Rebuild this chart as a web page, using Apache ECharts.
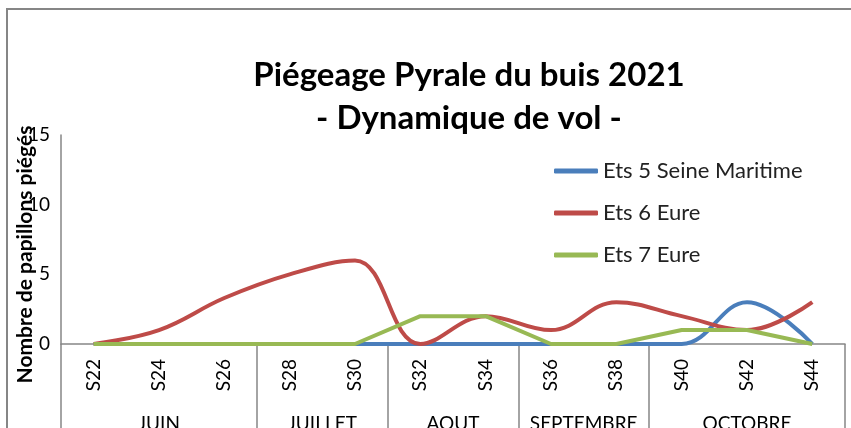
<!DOCTYPE html>
<html>
<head>
<meta charset="utf-8">
<script src="https://cdn.jsdelivr.net/npm/echarts@6/dist/echarts.min.js"></script>
<style>
  html, body { margin: 0; padding: 0; background: #fff; }
  #chart { width: 851px; height: 428px; }
</style>
</head>
<body>
<div id="chart"></div>
<script>
// weekly catches, even weeks only
const weeks = ['S22', 'S24', 'S26', 'S28', 'S30', 'S32', 'S34', 'S36', 'S38', 'S40', 'S42', 'S44']
const ets5 = [0, 0, 0, 0, 0, 0, 0, 0, 0, 0, 3, 0]
const ets6 = [0, 1, 3.3, 5, 6, 0, 2, 1, 3, 2, 1, 3]
const ets7 = [0, 0, 0, 0, 0, 2, 2, 0, 0, 1, 1, 0]

// month groups on the second axis level (in category units)
const months = ['JUIN', 'JUILLET', 'AOUT', 'SEPTEMBRE', 'OCTOBRE']
const monthBounds = [0, 3, 5, 7, 9, 12]
const monthCenters = [1.5, 4, 6, 8, 10.5]

const yTicks = [0, 5, 10, 15]

const FONT = 'Lato, "Open Sans", sans-serif'
const GREY = '#868686'

const chart = echarts.init(document.getElementById('chart'))

const option = {
  animation: false,
  color: ['#4a7ebb', '#be4b48', '#98b954'],
  title: {
    text: 'Piégeage Pyrale du buis 2021\n- Dynamique de vol -',
    left: 464,
    top: 49,
    textAlign: 'center',
    textStyle: {
      fontFamily: FONT,
      fontSize: 33,
      fontWeight: 'bold',
      color: '#000',
      lineHeight: 43,
    },
  },
  legend: {
    orient: 'vertical',
    left: 549,
    top: 155,
    itemWidth: 44,
    itemHeight: 5,
    itemGap: 20,
    icon: 'roundRect',
    textStyle: {
      fontFamily: FONT,
      fontSize: 22,
      color: '#222',
      lineHeight: 22,
    },
  },
  graphic: [
    {
      type: 'rect',
      shape: { x: 7, y: 9, width: 900, height: 500 },
      style: { fill: 'none', stroke: GREY, lineWidth: 2 },
      silent: true,
    },
  ],
  grid: {
    left: 61,
    right: 6,
    top: 135,
    bottom: 84,
    containLabel: false,
    outerBoundsMode: 'none',
  },
  xAxis: [
    {
      type: 'category',
      data: weeks,
      boundaryGap: true,
      axisLine: { lineStyle: { color: GREY, width: 1.5 } },
      axisTick: { show: false },
      axisLabel: {
        rotate: 90,
        interval: 0,
        margin: 15,
        fontFamily: FONT,
        fontSize: 19,
        color: '#000',
      },
    },
    {
      type: 'value',
      position: 'bottom',
      min: 0,
      max: 12,
      axisLine: { show: false },
      splitLine: { show: false },
      axisTick: {
        show: true,
        customValues: monthBounds,
        length: 90,
        lineStyle: { color: GREY, width: 1.5 },
      },
      axisLabel: {
        customValues: monthCenters,
        margin: 70,
        fontFamily: FONT,
        fontSize: 19,
        color: '#000',
        formatter: (v) => months[monthCenters.indexOf(v)] || '',
      },
    },
  ],
  yAxis: {
    type: 'value',
    min: 0,
    max: 15,
    interval: 5,
    name: 'Nombre de papillons piégés',
    nameLocation: 'middle',
    nameRotate: 90,
    nameGap: 25,
    nameMoveOverlap: false,
    nameTextStyle: {
      fontFamily: FONT,
      fontSize: 21,
      fontWeight: 'bold',
      color: '#000',
      padding: [0, 30, 0, 0],
    },
    axisLine: { show: true, lineStyle: { color: GREY, width: 1.5 } },
    axisTick: { show: false },
    splitLine: { show: false },
    axisLabel: {
      margin: 11,
      fontFamily: FONT,
      fontSize: 19,
      color: '#000',
      customValues: yTicks,
    },
  },
  series: [
    {
      name: 'Ets 5 Seine Maritime',
      type: 'line',
      data: ets5,
      smooth: 0.4,
      showSymbol: false,
      lineStyle: { width: 4 },
      z: 3,
    },
    {
      name: 'Ets 6 Eure',
      type: 'line',
      data: ets6,
      smooth: 0.4,
      showSymbol: false,
      lineStyle: { width: 4 },
      z: 4,
    },
    {
      name: 'Ets 7 Eure',
      type: 'line',
      data: ets7,
      smooth: false,
      showSymbol: false,
      lineStyle: { width: 4 },
      z: 5,
    },
  ],
}

chart.setOption(option)
</script>
</body>
</html>
